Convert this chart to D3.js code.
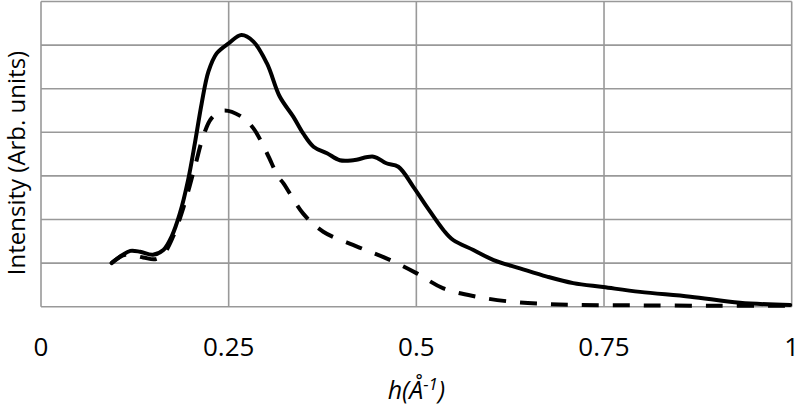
<!DOCTYPE html>
<html>
<head>
<meta charset="utf-8">
<script src="https://cdn.jsdelivr.net/npm/d3@7"></script>
<style>
  body { margin: 0; background: #fff; }
  text { font-family: "Open Sans", sans-serif; fill: #000; }
</style>
</head>
<body>
<script>
// x ticks and y grid levels
var xTicks = [0, 0.25, 0.5, 0.75, 1];
var xTickLabels = ['0', '0.25', '0.5', '0.75', '1'];
var yGrid = [0, 1, 2, 3, 4, 5, 6, 7];

// solid curve
var hSolid = [0.094, 0.108, 0.119, 0.132, 0.149, 0.163, 0.174, 0.185, 0.196, 0.205, 0.214, 0.223, 0.234, 0.25, 0.267, 0.283, 0.301, 0.318, 0.336, 0.349, 0.363, 0.381, 0.398, 0.416, 0.443, 0.46, 0.476, 0.496, 0.514, 0.536, 0.549, 0.576, 0.603, 0.638, 0.674, 0.709, 0.749, 0.798, 0.865, 0.931, 0.998];
var iSolid = [1.0, 1.18, 1.28, 1.26, 1.19, 1.30, 1.61, 2.14, 2.91, 3.75, 4.66, 5.39, 5.81, 6.04, 6.23, 6.08, 5.58, 4.82, 4.36, 3.98, 3.67, 3.52, 3.36, 3.36, 3.44, 3.29, 3.21, 2.75, 2.29, 1.76, 1.53, 1.30, 1.07, 0.88, 0.69, 0.54, 0.45, 0.34, 0.23, 0.09, 0.04];

// dashed curve
var hDash = [0.094, 0.112, 0.136, 0.152, 0.163, 0.176, 0.19, 0.205, 0.216, 0.227, 0.243, 0.267, 0.283, 0.301, 0.316, 0.323, 0.349, 0.376, 0.421, 0.46, 0.5, 0.536, 0.58, 0.629, 0.674, 0.718, 0.8, 0.9, 1.0];
var iDash = [1.0, 1.19, 1.13, 1.09, 1.2, 1.61, 2.29, 3.21, 3.90, 4.32, 4.50, 4.36, 4.09, 3.52, 2.98, 2.83, 2.14, 1.72, 1.38, 1.11, 0.77, 0.42, 0.23, 0.11, 0.06, 0.04, 0.03, 0.02, 0.02];

var width = 798, height = 406;

var svg = d3.select('body').append('svg')
    .attr('width', width)
    .attr('height', height);

var x = d3.scaleLinear().domain([0, 1]).range([41, 791.7]);
var y = d3.scaleLinear().domain([0, 7]).range([306.7, 1.5]);

// grid
svg.append('g').selectAll('line.h')
    .data(yGrid)
    .enter().append('line')
        .attr('x1', x(0)).attr('x2', x(1))
        .attr('y1', function(d) { return y(d) })
        .attr('y2', function(d) { return y(d) })
        .attr('stroke', '#999')
        .attr('stroke-width', 1.6);

svg.append('g').selectAll('line.v')
    .data(xTicks)
    .enter().append('line')
        .attr('x1', function(d) { return x(d) })
        .attr('x2', function(d) { return x(d) })
        .attr('y1', y(0)).attr('y2', y(7))
        .attr('stroke', '#999')
        .attr('stroke-width', 1.6);

// x tick labels
svg.append('g').selectAll('text')
    .data(xTicks)
    .enter().append('text')
        .attr('x', function(d) { return x(d) })
        .attr('y', 356)
        .attr('text-anchor', 'middle')
        .style('font-size', '26px')
        .text(function(d, i) { return xTickLabels[i] });

var line = d3.line()
    .x(function(d) { return x(d[0]) })
    .y(function(d) { return y(d[1]) })
    .curve(d3.curveCatmullRom);

svg.append('path')
    .datum(d3.zip(hDash, iDash))
    .attr('d', line)
    .attr('fill', 'none')
    .attr('stroke', '#000')
    .attr('stroke-width', 4)
    .attr('stroke-dasharray', '17,14');

svg.append('path')
    .datum(d3.zip(hSolid, iSolid))
    .attr('d', line)
    .attr('fill', 'none')
    .attr('stroke', '#000')
    .attr('stroke-width', 4)
    .attr('stroke-linejoin', 'round')
    .attr('stroke-linecap', 'round');

// axis titles
svg.append('text')
    .attr('transform', 'translate(25,163) rotate(-90)')
    .attr('text-anchor', 'middle')
    .style('font-size', '24px')
    .text('Intensity (Arb. units)');

var xt = svg.append('text')
    .attr('x', x(0.5))
    .attr('y', 399)
    .attr('text-anchor', 'middle')
    .style('font-size', '25px')
    .style('font-style', 'italic');
xt.append('tspan').text('h(Å');
xt.append('tspan').attr('dy', -9).style('font-size', '17px').text('-1');
xt.append('tspan').attr('dy', 9).text(')');
</script>
</body>
</html>
